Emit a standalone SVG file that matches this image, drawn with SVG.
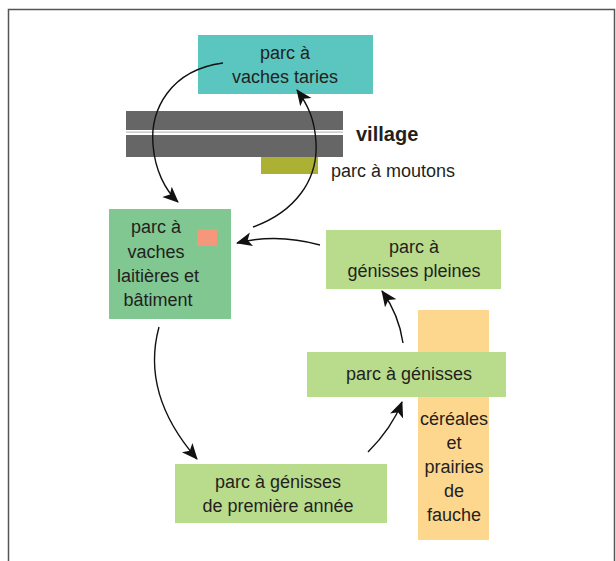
<svg xmlns="http://www.w3.org/2000/svg" width="616" height="561" viewBox="0 0 616 561">
<style>
text{font-family:"Liberation Sans",Arial,sans-serif;font-size:18px;fill:#231f20;text-anchor:middle}
.conn path{fill:none;stroke:#111;stroke-width:1.4}
</style>
<defs>
<marker id="ah" markerUnits="userSpaceOnUse" markerWidth="20" markerHeight="16" refX="15" refY="7" orient="auto">
<path d="M0,0 L16,7 L0,14 L4,7 z" fill="#111"/>
</marker>
</defs>
<rect x="0" y="0" width="616" height="561" fill="#fff"/>
<path d="M8.5,561 V9.5 H614.5 V561" fill="none" stroke="#555" stroke-width="1.5"/>
<g id="village">
<rect x="126" y="111" width="217" height="19" fill="#666"/>
<rect x="126" y="131.5" width="217" height="1.2" fill="#bbb"/>
<rect x="126" y="135" width="217" height="22" fill="#666"/>
<text x="356" y="141" style="font-weight:bold;font-size:20px;text-anchor:start">village</text>
</g>
<g id="moutons">
<rect x="261" y="157" width="57" height="17" fill="#acb134"/>
<text x="331" y="177" style="text-anchor:start">parc à moutons</text>
</g>
<g id="cereales">
<rect x="418" y="310" width="71" height="230" fill="#fed78e"/>
<text x="454" y="425">céréales</text>
<text x="454" y="449">et</text>
<text x="454" y="473">prairies</text>
<text x="454" y="497">de</text>
<text x="454" y="521">fauche</text>
</g>
<g id="taries">
<rect x="198" y="35" width="175" height="59" fill="#5bc5bf"/>
<text x="285" y="59">parc à</text>
<text x="285" y="83">vaches taries</text>
</g>
<g id="laitieres">
<rect x="109" y="209" width="122" height="110" fill="#80c791"/>
<rect x="197" y="229" width="20" height="17" fill="#f4977a"/>
<text x="156" y="233">parc à</text>
<text x="156" y="258">vaches</text>
<text x="158" y="282">laitières et</text>
<text x="158" y="306">bâtiment</text>
</g>
<g id="pleines">
<rect x="326" y="230" width="175" height="59" fill="#b9dc8c"/>
<text x="414" y="253">parc à</text>
<text x="414" y="277">génisses pleines</text>
</g>
<g id="genisses">
<rect x="307" y="352" width="199" height="45" fill="#b9dc8c"/>
<text x="409" y="380">parc à génisses</text>
</g>
<g id="premiere">
<rect x="175" y="464" width="212" height="59" fill="#b9dc8c"/>
<text x="278" y="488">parc à génisses</text>
<text x="278" y="512">de première année</text>
</g>
<g class="conn">
<path d="M223,63 C170,70 150,110 153,145 C155,170 165,190 178,202" marker-end="url(#ah)"/>
<path d="M253,227 C295,212 318,180 316,143 C315,120 308,105 297,90" marker-end="url(#ah)"/>
<path d="M320,245 C295,238 265,236 237,243" marker-end="url(#ah)"/>
<path d="M159,327 C150,360 150,405 197,459" marker-end="url(#ah)"/>
<path d="M368,452 C382,438 395,420 402,402" marker-end="url(#ah)"/>
<path d="M403,343 C400,322 392,305 382,291" marker-end="url(#ah)"/>
</g>
</svg>
